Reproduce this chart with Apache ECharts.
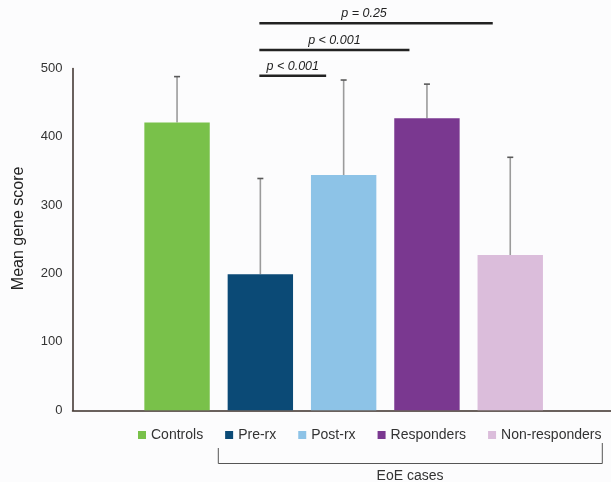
<!DOCTYPE html>
<html>
<head>
<meta charset="utf-8">
<script src="https://cdn.jsdelivr.net/npm/echarts@6/dist/echarts.min.js"></script>
<style>
  html, body { margin: 0; padding: 0; background: #fcfcfd; }
  #chart { width: 611px; height: 482px; }
</style>
</head>
<body>
<div id="chart"></div>
<script>
// Group names and colours
const groups = ['Controls', 'Pre-rx', 'Post-rx', 'Responders', 'Non-responders'];
const colors = ['#79c14a', '#0b4a76', '#8dc3e7', '#7a3890', '#dbbddb'];
// Mean gene score per group and its standard deviation (upper error bar)
const means = [421, 199, 344, 427, 227];
const errors = [67, 140, 139, 50, 143];
// Y axis ticks
const yMin = 0, yMax = 500, yStep = 100;
// Pairwise comparisons shown above the bars
const comparisons = [
  { from: 'Pre-rx', to: 'Post-rx', label: 'p < 0.001' },
  { from: 'Pre-rx', to: 'Responders', label: 'p < 0.001' },
  { from: 'Pre-rx', to: 'Non-responders', label: 'p = 0.25' }
];
const subgroupLabel = 'EoE cases';

const FONT = '"Liberation Sans", Arial, sans-serif';
const chart = echarts.init(document.getElementById('chart'));

const gridTop = 68.4, gridBottom = 71.7;

// one bar series per group so each gets its own legend entry; they overlap in place
const barSeries = groups.map((g, i) => ({
  name: g,
  type: 'bar',
  xAxisIndex: 1,
  yAxisIndex: 1,
  barWidth: '78.5%',
  barGap: '-100%',
  itemStyle: { color: colors[i] },
  data: groups.map((_, j) => (j === i ? means[j] : null)),
  z: 2
}));

const errorSeries = {
  type: 'custom',
  xAxisIndex: 1,
  yAxisIndex: 1,
  z: 1,
  data: means.map((m, i) => [i, m, m + errors[i]]),
  renderItem: function (params, api) {
    const base = api.coord([api.value(0), api.value(1)]);
    const top = api.coord([api.value(0), api.value(2)]);
    return {
      type: 'group',
      children: [
        { type: 'line', shape: { x1: base[0], y1: base[1], x2: top[0], y2: top[1] },
          style: { stroke: '#9b9b9b', lineWidth: 1.6 } },
        { type: 'line', shape: { x1: top[0] - 3, y1: top[1], x2: top[0] + 3, y2: top[1] },
          style: { stroke: '#5a5a5a', lineWidth: 1.6 } }
      ]
    };
  }
};

chart.setOption({
  backgroundColor: '#fcfcfd',
  animation: false,
  textStyle: { fontFamily: FONT },
  grid: [
    { left: 72.5, right: 0, top: gridTop, bottom: gridBottom },
    { left: 135.4, width: 416.5, top: gridTop, bottom: gridBottom }
  ],
  xAxis: [
    { type: 'value', gridIndex: 0, min: 0, max: 1,
      axisLine: { show: true, onZero: false, lineStyle: { color: '#3a2e28', width: 1.5 } },
      axisTick: { show: false }, axisLabel: { show: false }, splitLine: { show: false } },
    { type: 'category', gridIndex: 1, data: groups,
      axisLine: { show: false }, axisTick: { show: false }, axisLabel: { show: false } }
  ],
  yAxis: [
    { type: 'value', gridIndex: 0, min: yMin, max: yMax, interval: yStep,
      name: 'Mean gene score', nameLocation: 'middle', nameGap: 46,
      nameTextStyle: { fontSize: 16, color: '#222', fontFamily: FONT, padding: [0, 0, 0, 22] },
      axisLine: { show: true, lineStyle: { color: '#3a2e28', width: 1.5 } },
      axisTick: { show: false },
      axisLabel: { margin: 10, fontSize: 13, color: '#333', fontFamily: FONT },
      splitLine: { show: false } },
    { type: 'value', gridIndex: 1, min: yMin, max: yMax, show: false, splitLine: { show: false } }
  ],
  legend: {
    data: groups,
    icon: 'rect',
    itemWidth: 8, itemHeight: 8, itemGap: 22,
    left: 138, top: 428, padding: 0,
    textStyle: { fontSize: 14, color: '#333', fontFamily: FONT },
    selectedMode: false
  },
  series: [...barSeries, errorSeries]
});

// significance brackets, stacked upwards from just above the axis top
const levelY = [gridTop + 7.3, gridTop - 18.4, gridTop - 45.1];
const labelDx = [0, 0, -12];
const endInset = 17.5;
const graphics = [];
comparisons.forEach((c, k) => {
  const x1 = chart.convertToPixel({ xAxisIndex: 1 }, c.from) - 1;
  const x2 = chart.convertToPixel({ xAxisIndex: 1 }, c.to) - endInset;
  const y = levelY[k];
  graphics.push({ type: 'line', shape: { x1: x1, y1: y, x2: x2, y2: y },
    style: { stroke: '#222', lineWidth: 2.4 } });
  graphics.push({ type: 'text', x: (x1 + x2) / 2 + labelDx[k], y: y - 9.5,
    style: { text: c.label, fontSize: 12.5, fontStyle: 'italic', fill: '#222',
      fontFamily: FONT, align: 'center', verticalAlign: 'middle' } });
});

// brace grouping the four EoE legend entries
const bx1 = 218.3, bx2 = 602.3, by = 463.5;
graphics.push({
  type: 'polyline',
  shape: { points: [[bx1, 448], [bx1, by], [bx2, by], [bx2, 443]] },
  style: { stroke: '#555', lineWidth: 1, fill: null }
});
graphics.push({ type: 'text', x: 410, y: 476,
  style: { text: subgroupLabel, fontSize: 14, fill: '#333', fontFamily: FONT,
    align: 'center', verticalAlign: 'middle' } });

chart.setOption({ graphic: graphics });
</script>
</body>
</html>
